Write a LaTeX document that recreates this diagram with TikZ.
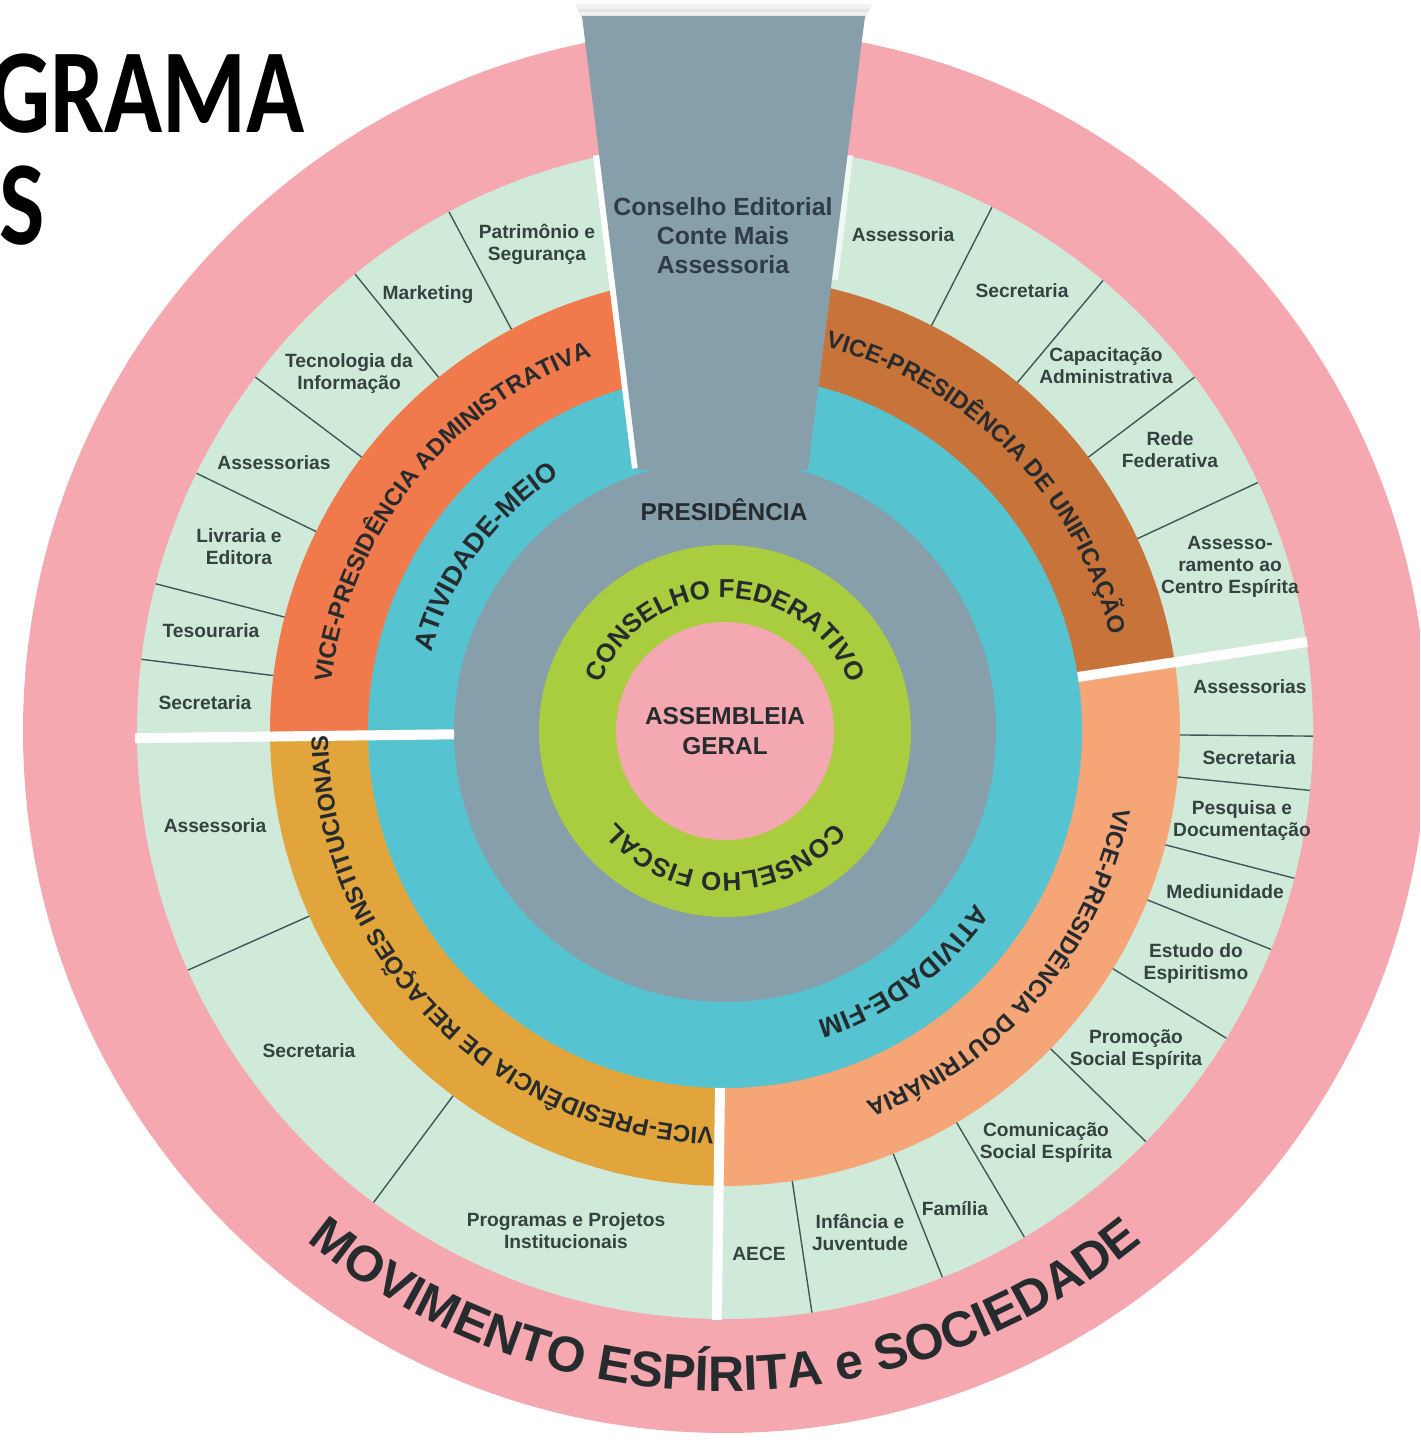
\documentclass[tikz,border=0pt]{standalone}
\usepackage{fontspec}
\usepackage{graphicx}
\setmainfont{Liberation Sans}
\newfontfamily\titlefont{Carlito}
\usetikzlibrary{decorations.text}
\definecolor{pinkout}{HTML}{F5A8AF}
\definecolor{mint}{HTML}{D0EADA}
\definecolor{vpadm}{HTML}{F07A4B}
\definecolor{vpuni}{HTML}{C8733A}
\definecolor{vpdou}{HTML}{F6A577}
\definecolor{vprel}{HTML}{E2A53B}
\definecolor{cyanr}{HTML}{56C3D1}
\definecolor{greyb}{HTML}{879EAB}
\definecolor{lime}{HTML}{A9CD3E}
\definecolor{pinkin}{HTML}{F4A8B1}
\definecolor{txt}{HTML}{262B2E}
\definecolor{lbl}{HTML}{35423F}
\definecolor{divl}{HTML}{3E5857}
\definecolor{edtxt}{HTML}{2F3B47}
\newcommand{\ringtext}[5]{%
  \path[decorate, decoration={text along path, text align=center, text color=txt,
     text={|\fontsize{#1}{#1}\selectfont\bfseries|#5}}]
     (C) ++(#3:#2) arc[start angle=#3, end angle=#4, radius=#2];}
\newcommand{\divline}[1]{\draw[divider] (C) ++(#1:455) -- ++(#1:133);}
\newcommand{\sepline}[3]{\draw[sepw] (C) ++(#1:#2) -- ++(#1:#3);}
\begin{document}
\begin{tikzpicture}[x=0.5pt,y=0.5pt,
  lab/.style={font=\bfseries\fontsize{9.6}{11}\selectfont, text=lbl, align=center, inner sep=0pt},
  big/.style={font=\bfseries\fontsize{12.2}{15}\selectfont, text=txt, align=center, inner sep=0pt},
  divider/.style={draw=divl, line width=0.7pt},
  sepw/.style={draw=white, line width=5pt},
  title/.style={anchor=base east, inner sep=0pt, font=\titlefont\bfseries\fontsize{60}{60}\selectfont}]
\useasboundingbox (0,0) rectangle (1420,1440);
\clip (0,0) rectangle (1420,1440);
\fill[white] (0,0) rectangle (1420,1440);
\coordinate (C) at (725,709);
% title
\node[title] (t1) at (305,1307) {\scalebox{0.8}[1]{GRAMA}};
\node[title] (t2) at (45,1195) {\scalebox{0.8}[1]{S}};
% rings
\fill[pinkout] (C) circle[radius=702];
\fill[mint] (C) circle[radius=588];
\fill[vpadm] (C) -- ++(90:455) arc[start angle=90, end angle=180.7, radius=455] -- cycle;
\fill[vprel] (C) -- ++(180.7:455) arc[start angle=180.7, end angle=269.2, radius=455] -- cycle;
\fill[vpdou] (C) -- ++(-90.8:455) arc[start angle=-90.8, end angle=8.7, radius=455] -- cycle;
\fill[vpuni] (C) -- ++(8.7:455) arc[start angle=8.7, end angle=90, radius=455] -- cycle;
\fill[cyanr] (C) circle[radius=357];
% white strips beside the top panel
\draw[white, line width=6pt] (599,1285) -- (638,972);
\draw[white, opacity=0.7, line width=4pt] (849,1285) -- (834,1160);
\fill[greyb] (C) circle[radius=271];
% soft shadow and top panel
\fill[black, opacity=0.06] (578,1431) -- (869,1431) -- (866,1420) -- (581,1420) -- cycle;
\fill[black, opacity=0.05] (575,1436) -- (872,1436) -- (869,1428) -- (578,1428) -- cycle;
\fill[greyb] (582,1424) -- (865,1424) -- (808,970) -- (638,970) -- cycle;
\fill[lime] (C) circle[radius=186];
\fill[pinkin] (C) circle[radius=109];
% separators
\sepline{180.7}{271}{319}
\sepline{269.2}{357}{232}
\sepline{8.7}{357}{232}
% dividers in the outer band
\foreach \a in {118,129,143,154,165.5,173} {\divline{\a}}
\foreach \a in {63,50,37,25} {\divline{\a}}
\foreach \a in {-0.5,-5.8,-14.5,-21.8,-31.5,-44.3,-59.4,-68.3,-81.5} {\divline{\a}}
\foreach \a in {204,233.3} {\divline{\a}}
% curved texts
\ringtext{12}{397}{201.3}{81.3}{VICE-PRESIDÊNCIA ADMINISTRATIVA}
\ringtext{12}{397}{104.7}{-15.3}{VICE-PRESIDÊNCIA DE UNIFICAÇÃO}
\ringtext{12}{397}{19.8}{-100.2}{VICE-PRESIDÊNCIA DOUTRINÁRIA}
\ringtext{12}{397}{-65.5}{-205.5}{VICE-PRESIDÊNCIA DE RELAÇÕES INSTITUCIONAIS}
\ringtext{13.5}{304}{214}{74}{ATIVIDADE-MEIO}
\ringtext{13.5}{304}{16.6}{-123.4}{ATIVIDADE-FIM}
\ringtext{13}{133}{180}{0}{CONSELHO FEDERATIVO}
\ringtext{13}{142}{0}{-180}{CONSELHO FISCAL}
\path[decorate, decoration={text along path, text align=center, text color=txt,
     text={|\fontsize{25}{25}\selectfont\bfseries|MOVIMENTO ESPÍRITA e SOCIEDADE}}]
     (C) ++(200:660) arc[start angle=200, end angle=340, radius=660];
% centre texts
\node[font=\bfseries\fontsize{12.4}{14.5}\selectfont, text=edtxt, align=center, inner sep=0pt] (ed) at (723,1204) {Conselho Editorial\\Conte Mais\\Assessoria};
\node[big] (pres) at (724,930) {PRESIDÊNCIA};
\node[big] (ag) at (725,709) {ASSEMBLEIA\\GERAL};
% upper left labels
\node[lab] (ul1) at (537,1196) {Patrimônio e\\Segurança};
\node[lab] (ul2) at (428,1145) {Marketing};
\node[lab] (ul3) at (349,1066) {Tecnologia da\\Informação};
\node[lab] (ul4) at (274,977) {Assessorias};
\node[lab] (ul5) at (239,893) {Livraria e\\Editora};
\node[lab] (ul6) at (211,809) {Tesouraria};
\node[lab] (ul7) at (205,737) {Secretaria};
% upper right labels
\node[lab] (ur1) at (903,1205) {Assessoria};
\node[lab] (ur2) at (1022,1149) {Secretaria};
\node[lab] (ur3) at (1106,1074) {Capacitação\\Administrativa};
\node[lab] (ur4) at (1170,990) {Rede\\Federativa};
\node[lab] (ur5) at (1230,873) {Assesso-\\ramento ao\\Centro Espírita};
% lower right labels
\node[lab] (lr1) at (1250,753) {Assessorias};
\node[lab] (lr2) at (1249,682) {Secretaria};
\node[lab] (lr3) at (1242,619) {Pesquisa e\\Documentação};
\node[lab] (lr4) at (1225,548) {Mediunidade};
\node[lab] (lr5) at (1196,476) {Estudo do\\Espiritismo};
\node[lab] (lr6) at (1136,390) {Promoção\\Social Espírita};
\node[lab] (lr7) at (1046,297) {Comunicação\\Social Espírita};
\node[lab] (lr8) at (955,231) {Família};
\node[lab] (lr9) at (860,208) {Infância e\\Juventude};
\node[lab] (lr10) at (759,186) {AECE};
% lower left labels
\node[lab] (ll1) at (215,614) {Assessoria};
\node[lab] (ll2) at (309,389) {Secretaria};
\node[lab] (ll3) at (566,209) {Programas e Projetos\\Institucionais};
\end{tikzpicture}
\end{document}
